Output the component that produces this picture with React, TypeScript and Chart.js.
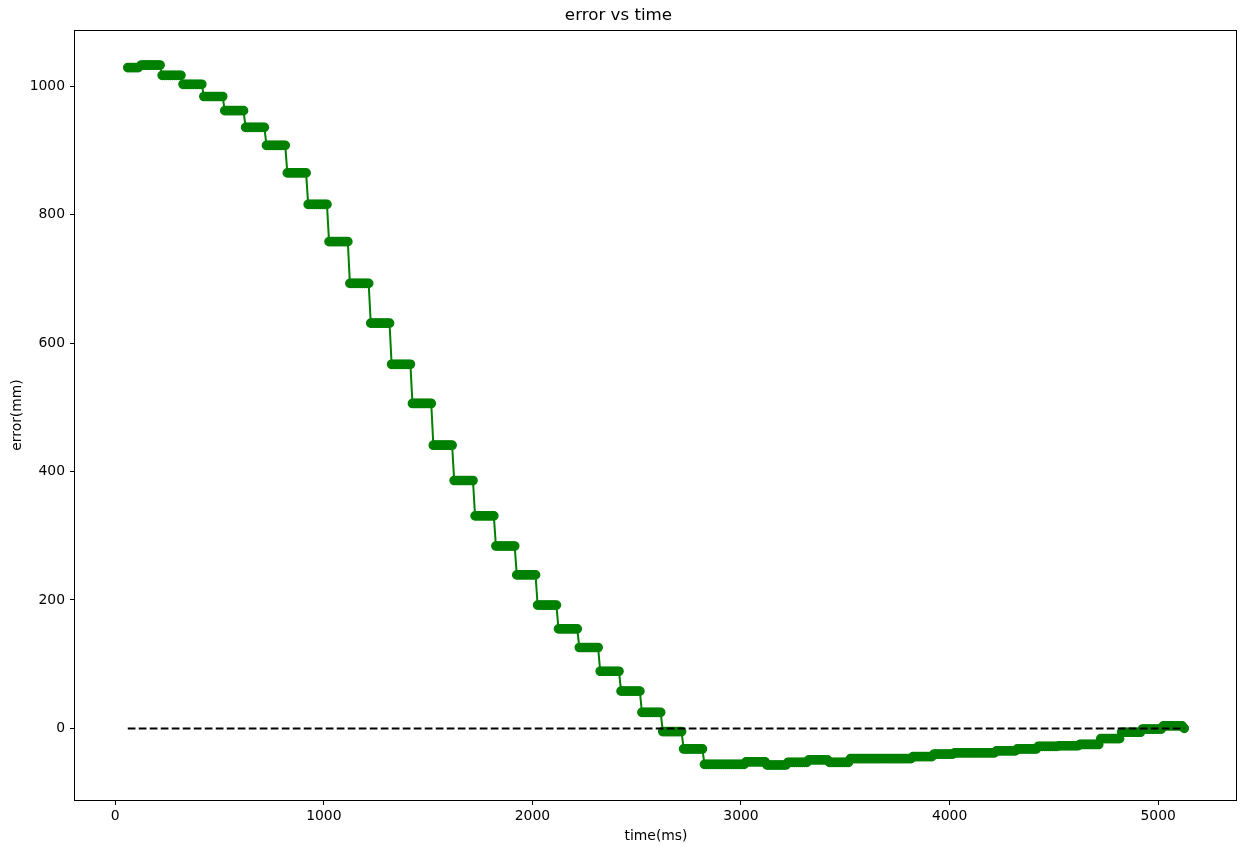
import React, { useEffect, useRef } from "react";
import { Chart, registerables } from "chart.js";

Chart.register(...registerables);

// Start time (ms) of each held step of the error signal
const stepStart: number[] = [
  60, 125, 225, 325, 425, 525, 625, 725, 825, 925,
  1025, 1125, 1225, 1325, 1425, 1525, 1625, 1725, 1825, 1925,
  2025, 2125, 2225, 2325, 2425, 2525, 2625, 2725, 2825, 2925,
  3025, 3125, 3225, 3325, 3425, 3525, 3625, 3725, 3825, 3925,
  4025, 4125, 4225, 4325, 4425, 4525, 4625, 4725, 4825, 4925,
  5025,
];
// Error value (mm) held during each step
const stepValue: number[] = [
  1029, 1033, 1017, 1003, 984, 962, 936, 908, 865, 816,
  758, 693, 631, 567, 506, 441, 386, 331, 284, 239,
  192, 155, 126, 89, 58, 25, -5, -32, -56, -56,
  -52, -57, -53, -49, -53, -47, -47, -47, -44, -40,
  -38, -38, -35, -32, -28, -27, -25, -16, -6, -1,
  4,
];
const lastStepEnd = 5115;
const finalTime = 5125;
const finalValue = 0;
const sampleMs = 10;

// Zero reference (dashed)
const refX: number[] = [60, 5125];
const refY: number[] = [0, 0];

const xTicks: number[] = [0, 1000, 2000, 3000, 4000, 5000];
const yTicks: number[] = [0, 200, 400, 600, 800, 1000];

function buildSeries() {
  const pts: { x: number; y: number }[] = [];
  for (let i = 0; i < stepStart.length; i++) {
    const end = i + 1 < stepStart.length ? stepStart[i + 1] - sampleMs : lastStepEnd;
    for (let t = stepStart[i]; t <= end + 0.001; t += sampleMs) {
      pts.push({ x: t, y: stepValue[i] });
    }
  }
  pts.push({ x: finalTime, y: finalValue });
  return pts;
}

const FONT = "'DejaVu Sans', sans-serif";

const framePlugin = {
  id: "frame",
  afterDatasetsDraw(chart: any) {
    const { ctx, chartArea } = chart;
    ctx.save();
    ctx.strokeStyle = "#000";
    ctx.lineWidth = 1;
    const l = Math.round(chartArea.left) - 0.5;
    const t = Math.round(chartArea.top) + 0.5;
    const r = Math.round(chartArea.right) - 0.5;
    const b = Math.round(chartArea.bottom) + 0.5;
    ctx.strokeRect(l, t, r - l, b - t);
    ctx.restore();
  },
};

export default function App() {
  const ref = useRef<HTMLCanvasElement | null>(null);
  useEffect(() => {
    if (!ref.current) return;
    const series = buildSeries();
    const chart = new Chart(ref.current, {
      type: "line",
      data: {
        datasets: [
          {
            data: refX.map((x, i) => ({ x, y: refY[i] })),
            borderColor: "#000000",
            borderWidth: 2,
            borderDash: [7.7, 3.3],
            pointRadius: 0,
            fill: false,
            order: 0,
          },
          {
            data: series,
            borderColor: "#008000",
            borderWidth: 2,
            pointRadius: 4.2,
            pointBorderWidth: 1.3,
            pointBackgroundColor: "#008000",
            pointBorderColor: "#008000",
            fill: false,
            tension: 0,
            order: 1,
          },
        ],
      },
      options: {
        responsive: false,
        animation: false,
        events: [],
        layout: { padding: { left: 0, right: 10, top: 0, bottom: 0 } },
        plugins: {
          legend: { display: false },
          tooltip: { enabled: false },
          title: {
            display: true,
            text: "error vs time",
            color: "#000",
            font: { family: FONT, size: 16.7, weight: "normal" },
            padding: { top: 6, bottom: 4 },
          },
        },
        scales: {
          x: {
            type: "linear",
            min: -193,
            max: 5378,
            afterBuildTicks: (s: any) => {
              s.ticks = xTicks.map((v) => ({ value: v }));
            },
            afterFit: (s: any) => {
              s.height = 53;
            },
            border: { display: false },
            grid: {
              display: true,
              drawOnChartArea: false,
              drawTicks: true,
              tickLength: 5,
              color: "#000",
              lineWidth: 1,
            },
            ticks: {
              color: "#000",
              font: { family: FONT, size: 13.9 },
              padding: 3,
              autoSkip: false,
              maxRotation: 0,
              callback: (v: any) => String(v),
            },
            title: {
              display: true,
              text: "time(ms)",
              color: "#000",
              font: { family: FONT, size: 13.9 },
              padding: { top: 0, bottom: 8.6 },
            },
          },
          y: {
            type: "linear",
            min: -111.5,
            max: 1087.5,
            afterBuildTicks: (s: any) => {
              s.ticks = yTicks.map((v) => ({ value: v }));
            },
            afterFit: (s: any) => {
              s.width = 75;
            },
            border: { display: false },
            grid: {
              display: true,
              drawOnChartArea: false,
              drawTicks: true,
              tickLength: 5,
              color: "#000",
              lineWidth: 1,
            },
            ticks: {
              color: "#000",
              font: { family: FONT, size: 13.9 },
              padding: 5,
              autoSkip: false,
              callback: (v: any) => String(v),
            },
            title: {
              display: true,
              text: "error(mm)",
              color: "#000",
              font: { family: FONT, size: 13.9 },
              padding: { top: 8.6, bottom: 0 },
            },
          },
        },
      },
      plugins: [framePlugin],
    } as any);
    return () => chart.destroy();
  }, []);
  return (
    <div style={{ position: "absolute", left: 0, top: 0, width: 1247, height: 853, background: "#fff" }}>
      <canvas ref={ref} width={1247} height={853} style={{ display: "block" }} />
    </div>
  );
}
